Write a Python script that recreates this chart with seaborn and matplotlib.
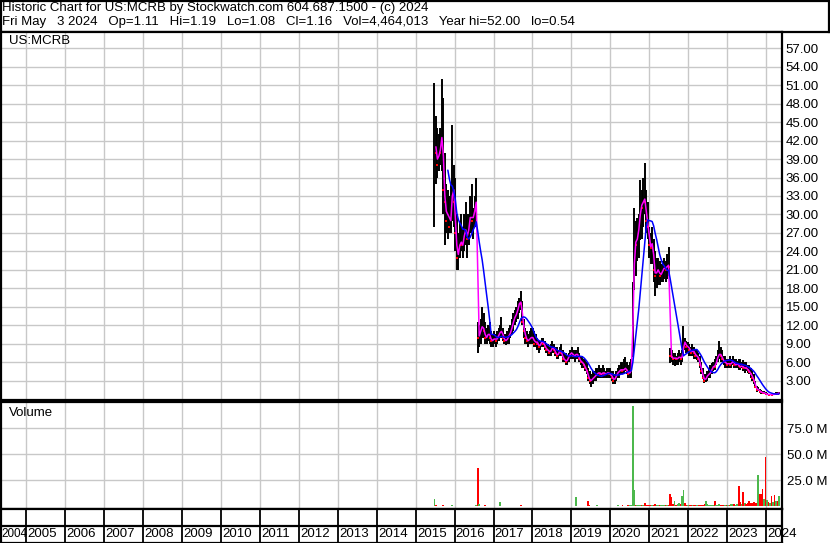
import numpy as np
import pandas as pd
import matplotlib
matplotlib.use("Agg")
import matplotlib.pyplot as plt
import seaborn as sns

sns.set_theme(style="white")
plt.rcParams["font.family"] = ["Liberation Sans", "DejaVu Sans"]

# --- datos (barras de 2 semanas, jun 2015 - may 2024) ---
high = [
    # 2015
    51.3, 46, 44, 43, 44, 52, 49, 40, 35, 34, 33, 35, 44.5, 38,
    # 2016
    36, 30, 27, 29, 30, 28, 30, 32, 30, 30, 33, 35, 31, 33, 36,
    12.5, 12, 13, 15, 14, 12.5, 11.5, 12, 12.5, 11, 10.5,
    # 2017
    11, 10.5, 11, 11.5, 12, 13.3, 11.5, 10.5, 10.5, 11, 11.5, 12, 13,
    14, 14.5, 15, 16, 16.5, 17.5, 16, 13, 11.5, 11, 10.5, 11, 11.5,
    # 2018
    11.5, 11, 10.5, 10, 9.5, 9.5, 10, 10, 9.5, 9, 9, 8.5, 9,
    9.5, 9, 8.5, 8.5, 8, 8.5, 9, 8, 7.5, 7.5, 7, 7.5, 8,
    # 2019
    8.5, 8, 8, 8, 8.4, 7.5, 7, 7, 6.5, 6.5, 6, 5, 4.5,
    4, 4.5, 4.5, 5, 5, 5.5, 5, 5, 5.5, 5, 4.5, 5, 5,
    # 2020
    5, 4.5, 4.5, 4, 4.5, 5, 5.5, 6, 6, 6.5, 6.9, 6, 5.5,
    6, 6.5, 19, 31, 29, 29.5, 30, 35.6, 34, 36, 38.4, 34, 32,
    # 2021
    28, 27, 28, 26, 24, 23, 23, 22.5, 22, 22.5, 23, 22.5, 23.5,
    24.7, 8.3, 8, 7.5, 7.5, 7, 7.5, 8, 7.5, 8, 11.8, 10, 9.5,
    # 2022
    9.3, 9, 8.5, 9, 8.5, 8, 8, 7.5, 7, 6, 5, 4, 4,
    4.5, 5, 5.5, 5.8, 6, 6.5, 7, 8, 9.4, 8.5, 8, 7, 7,
    # 2023
    6.5, 6.5, 7, 6.5, 7, 6.5, 6.5, 6.2, 6.5, 6.5, 6, 6.4, 6,
    6, 5.5, 5.5, 5, 4.5, 4, 3, 2.2, 1.9, 1.7, 1.4, 1.3, 1.3,
    # 2024
    1.1, 1.0, 0.9, 0.9, 0.85, 0.95, 0.95, 1.1, 1.1, 1.19,
]
low = [
    28, 35, 36, 37, 38, 37, 30, 25, 27, 26, 27, 27, 29, 28,
    24, 21, 21, 23, 24, 23, 24, 25, 23, 25, 27, 27, 26, 28, 29,
    7.5, 8.5, 9, 10, 10, 9, 9, 9.5, 9, 8.5, 8.5,
    9, 8.5, 9, 9.5, 10, 10, 9.5, 9, 8.8, 9, 9, 10, 10.5,
    11, 12, 12.5, 13, 14, 14.5, 12, 10, 9, 9, 8.5, 9, 9,
    9, 8.5, 8.5, 8, 7.5, 8, 8.5, 8.5, 8, 7.5, 7, 7, 7,
    7.5, 7.5, 7, 6.5, 6.5, 7, 7, 6, 6, 5.5, 5.5, 6, 6.5,
    6.5, 6.5, 6, 6.5, 6.5, 6, 5.5, 5, 5, 4.5, 4, 3, 2.5,
    2, 2.5, 3, 3, 3.5, 3.5, 3.5, 3.5, 3.5, 3.5, 3.5, 3.5, 3.5,
    3.5, 3, 2.5, 2.5, 3, 3.5, 3.5, 4, 4, 4, 4.5, 4, 3.5,
    3.5, 3.5, 6.8, 17.7, 20, 22.5, 23, 25.8, 26, 28, 30, 27, 26,
    23, 22, 22, 19, 16.7, 18, 18.5, 18.5, 19, 19, 19.5, 19, 19.5,
    20, 5.8, 6, 5.5, 5.3, 5.5, 5.5, 6, 5.5, 6, 7, 8, 7.5,
    7.5, 7, 7, 7, 6.5, 6.5, 6.4, 6, 5, 4, 3.2, 2.6, 2.8,
    3, 3.5, 3.5, 4, 4.5, 4.8, 5.5, 6, 6.5, 6, 6, 5.5, 5,
    5, 5, 5, 5, 5.5, 5, 5, 5, 4.8, 4.8, 5, 4.5, 4.2,
    4.5, 4.2, 4, 3.5, 3, 2.5, 1.8, 1.2, 1.3, 1.0, 0.9, 0.9, 0.9,
    0.6, 0.6, 0.6, 0.6, 0.54, 0.65, 0.6, 0.7, 0.75, 0.8,
]
close = [
    42, 40, 38, 41, 40, 45, 34, 32, 29, 31, 28, 30, 36, 32,
    27, 23, 24, 26, 25, 25, 28, 27, 26, 29, 30, 29, 30, 31, 33,
    10, 10.5, 11.5, 12, 11, 10, 10, 11, 10, 9.5, 9.5,
    10, 9.5, 10, 10.5, 11, 11, 10, 9.5, 9.5, 10, 10.5, 11, 12,
    13, 13.5, 14, 15, 16, 15.5, 12.5, 11, 10, 9.5, 9.5, 10, 10,
    10, 9, 9.5, 9, 8.5, 9, 9.5, 9, 8.5, 8, 8, 7.5, 8,
    8.5, 8, 7.5, 7, 7.5, 8, 7.5, 6.5, 6.5, 6, 6.5, 7, 7.5,
    7.5, 7, 7, 7.5, 7, 6.5, 6, 6, 5.5, 5, 4.5, 3.5, 3,
    3, 3.5, 3.5, 4, 4, 4.5, 4, 4, 4.5, 4, 4, 4.5, 4,
    4, 3.5, 3, 3.5, 4, 4.5, 4.5, 5, 4.5, 5, 5, 4.5, 4,
    4.5, 5, 18, 26, 25, 27, 28, 32, 31, 33, 32, 29, 28,
    25, 24.5, 26, 21, 20, 21, 21, 20, 20.5, 21, 21.5, 21, 22,
    21.5, 7, 6.8, 6.5, 6.8, 6.5, 6.6, 7, 6.5, 7, 9.5, 9, 8.5,
    8.5, 8, 7.5, 8, 7.5, 7, 7, 6.5, 5.5, 4.5, 3.5, 3, 3.5,
    4, 4, 4.5, 5, 5.5, 5.2, 6.5, 7, 7.5, 7, 6.5, 6, 6,
    5.5, 6, 5.5, 6, 6.2, 5.5, 5.6, 5.8, 5.3, 5.2, 5.5, 5, 5.1,
    5, 4.7, 4.4, 4, 3.5, 3, 2, 1.5, 1.6, 1.2, 1.1, 1.0, 1.05,
    0.75, 0.8, 0.7, 0.75, 0.7, 0.8, 0.75, 0.9, 0.85, 1.16,
]
volume_m = [
    7, 0.8, 0.5, 0.5, 0.4, 0.6, 1.0, 0.6, 0.4, 0.3, 0.4, 0.3, 1.0, 0.5,
    0.5, 0.4, 0.4, 0.3, 0.3, 0.3, 0.4, 0.3, 0.3, 0.3, 0.4, 0.5, 0.3, 0.4, 0.8,
    37, 2, 0.5, 0.4, 0.4, 1.0, 0.3, 0.3, 0.3, 0.3, 0.3,
    0.3, 0.3, 0.3, 0.3, 4, 0.4, 0.3, 0.3, 0.3, 0.3, 0.3, 0.3, 0.3,
    0.3, 0.3, 0.3, 0.3, 0.3, 1.0, 0.3, 0.3, 0.3, 0.3, 0.3, 0.3, 0.3,
    0.3, 0.3, 0.3, 0.3, 0.3, 0.3, 0.3, 0.3, 0.3, 0.3, 0.3, 0.3, 0.3,
    0.3, 0.3, 0.3, 0.3, 0.3, 0.3, 0.3, 0.3, 0.3, 0.3, 0.3, 0.3, 0.3,
    0.3, 0.3, 0.3, 9, 0.4, 0.3, 0.3, 0.3, 0.3, 0.3, 0.4, 5, 1,
    0.3, 0.4, 0.3, 0.3, 1.5, 0.3, 0.3, 0.3, 0.3, 0.3, 0.3, 0.3, 0.3,
    0.4, 0.4, 0.4, 0.4, 0.5, 0.8, 0.5, 0.5, 1.0, 0.5, 0.5, 0.5, 0.8,
    0.8, 1.5, 96, 16, 1.5, 0.8, 1, 1, 0.8, 1, 3, 1, 1,
    1, 1, 1.5, 1, 2, 1, 1, 1, 0.8, 1, 1, 1, 1,
    1.5, 12, 9, 2, 5, 1.5, 2, 3, 2, 10, 16, 3, 1.5,
    1, 1, 1, 1.5, 1.5, 1, 1, 1, 1.5, 1, 1, 2, 5,
    2, 1.5, 1, 1.5, 1, 5, 1, 1.5, 2, 1, 1, 1, 1,
    1, 1, 1.5, 2, 2.5, 2, 1.5, 2, 19.5, 4, 2, 14, 3,
    2, 3, 5, 3, 3, 4, 3, 3, 30, 12, 12, 17, 7,
    47.7, 6, 4, 3, 10, 4, 11, 5, 5, 10,
]

title_1 = "Historic Chart for US:MCRB by Stockwatch.com 604.687.1500 - (c) 2024"
title_2 = ("Fri May   3 2024   Op=1.11   Hi=1.19   Lo=1.08   Cl=1.16   "
           "Vol=4,464,013   Year hi=52.00   lo=0.54")
year_ticks = list(range(2005, 2025))
year_labels = [str(y) for y in range(2005, 2025)]

# --- preparacion ---
dates = pd.date_range(end="2024-05-03", periods=len(close), freq="14D")
df = pd.DataFrame({"date": dates, "high": high, "low": low,
                   "close": close, "vol": volume_m})
df["t"] = df["date"].dt.year + (df["date"].dt.dayofyear - 1) / 365.25
df["ma_fast"] = df["close"].rolling(2).mean()
df["ma_slow"] = df["close"].rolling(10).mean()
df["up"] = df["close"].diff().fillna(1) >= 0

XMIN, XMAX = 2004.345, 2024.40
W, H = 830, 543


def box(x0, y0, x1, y1):
    return [x0 / W, 1 - y1 / H, (x1 - x0) / W, (y1 - y0) / H]


fig = plt.figure(figsize=(W / 100, H / 100), dpi=100)
fig.patch.set_facecolor("white")
axh = fig.add_axes(box(0.5, 1, 829, 32))
ax = fig.add_axes(box(1, 32, 781.5, 400))
axv = fig.add_axes(box(1, 402, 781.5, 509))
axd = fig.add_axes(box(1, 509, 781.5, 542.5))

grid_kw = dict(color="#c8c8c8", lw=1.0)
lab_kw = dict(fontsize=9.5, color="black")

# --- cabecera ---
axh.set_xticks([])
axh.set_yticks([])
axh.text(1.5 / 828.5, 1 - 7 / 31, title_1, transform=axh.transAxes,
         ha="left", va="center", **lab_kw)
axh.text(1.5 / 828.5, 1 - 20.5 / 31, title_2, transform=axh.transAxes,
         ha="left", va="center", **lab_kw)

# --- panel de precios ---
ax.vlines(df["t"], df["low"], df["high"], color="black", lw=1.4, zorder=2)
down = df[~df["up"]]
ax.scatter(down["t"], down["close"], marker="s", s=3, color="red",
           linewidths=0, zorder=3)
sns.lineplot(data=df, x="t", y="ma_fast", ax=ax, color="#ff00ff", lw=1.1,
             legend=False, zorder=4)
sns.lineplot(data=df, x="t", y="ma_slow", ax=ax, color="#0000ff", lw=1.1,
             legend=False, zorder=4)
ax.set_xlim(XMIN, XMAX)
ax.set_ylim(-0.15, 59.65)
ax.set_xticks(year_ticks)
ax.set_yticks(np.arange(3, 58, 3))
ax.yaxis.tick_right()
ax.set_yticklabels([f"{v:.2f}" for v in np.arange(3, 58, 3)], **lab_kw)
ax.tick_params(axis="both", length=0, labelbottom=False, pad=3)
ax.grid(True, **grid_kw)
ax.set_xlabel("")
ax.set_ylabel("")
ax.text(8 / 780.5, 1 - 9 / 368, "US:MCRB", transform=ax.transAxes,
        ha="left", va="center", **lab_kw)

# --- panel de volumen ---
colors = np.where(df["up"], "#4cb84c", "#ff0000")
axv.bar(df["t"], df["vol"], width=0.045, color=colors, linewidth=0, zorder=2)
axv.set_xlim(XMIN, XMAX)
axv.set_ylim(-2.6, 100.3)
axv.set_xticks(year_ticks)
axv.set_yticks([25, 50, 75])
axv.yaxis.tick_right()
axv.set_yticklabels(["25.0 M", "50.0 M", "75.0 M"], **lab_kw)
axv.tick_params(axis="both", length=0, labelbottom=False, pad=4)
axv.grid(True, **grid_kw)
axv.text(8 / 780.5, 1 - 11 / 107, "Volume", transform=axv.transAxes,
         ha="left", va="center", **lab_kw)

# --- caja de fechas ---
axd.set_xlim(XMIN, XMAX)
axd.set_ylim(0, 1)
axd.vlines(year_ticks, 0, 1, color="black", lw=1.3)
axd.axhline(0.5, color="black", lw=1.6)
axd.text(XMIN + 0.005, 0.24, "2004", ha="left", va="center",
         clip_on=False, fontsize=8.4, color="black")
for x, s in zip(year_ticks, year_labels):
    axd.text(x + 0.03, 0.24, s, ha="left", va="center", clip_on=False,
             **lab_kw)
axd.set_xticks([])
axd.set_yticks([])

for a in (axh, ax, axv, axd):
    for sp in a.spines.values():
        sp.set_color("black")
        sp.set_linewidth(1.6)

fig.savefig("out.png", dpi=100, facecolor="white")
